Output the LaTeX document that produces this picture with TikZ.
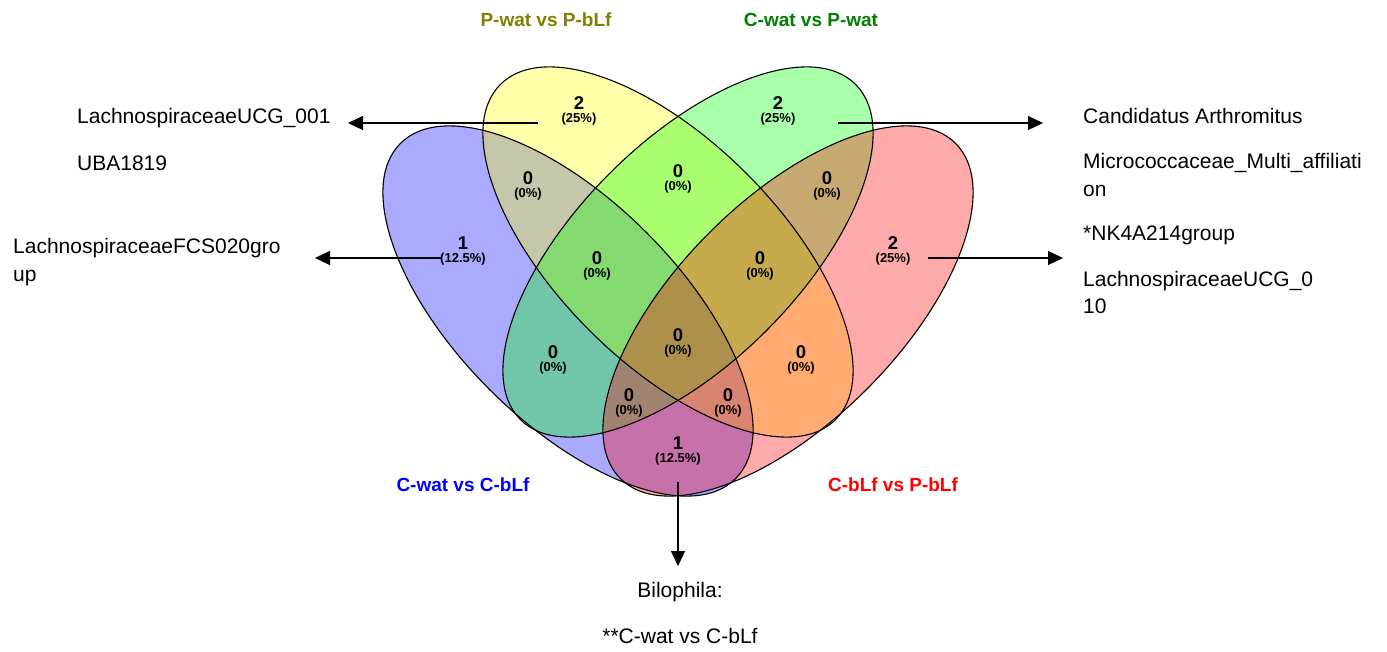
\documentclass[tikz,border=0pt]{standalone}
\usepackage{fontspec}
\setmainfont{Liberation Sans}
\usetikzlibrary{arrows.meta}
\definecolor{cblue}{RGB}{0,0,255}
\definecolor{cyellow}{RGB}{255,255,0}
\definecolor{cgreen}{RGB}{0,255,0}
\definecolor{cred}{RGB}{255,0,0}
\definecolor{lolive}{RGB}{128,128,0}
\definecolor{lgreen}{RGB}{0,128,0}
\begin{document}
\begin{tikzpicture}[x=1pt,y=1pt,
  setfill/.style={fill opacity=0.3333},
  setline/.style={draw=black, line width=1.1pt},
  cnt/.style={font=\fontsize{18.5}{18.5}\selectfont\bfseries, inner sep=0},
  pct/.style={font=\fontsize{13}{13}\selectfont\bfseries, inner sep=0},
  lab/.style={font=\fontsize{19}{19}\selectfont\bfseries, inner sep=0, anchor=base},
  side/.style={font=\fontsize{21}{21}\selectfont, inner sep=0, anchor=base west},
  bot/.style={font=\fontsize{21}{21}\selectfont, inner sep=0, anchor=base},
  arr/.style={line width=1.2pt, draw=black, -{Triangle[length=15pt,width=14pt]}}
]
\useasboundingbox[fill=white] (0,0) rectangle (1387,-651);

% fills (order: blue, yellow, green, red)
\begin{scope}[shift={(568,-311)},rotate=-45]
  \fill[cblue,setfill] (0,0) ellipse [x radius=237pt, y radius=111pt];
\end{scope}
\begin{scope}[shift={(668,-252)},rotate=-45]
  \fill[cyellow,setfill] (0,0) ellipse [x radius=237pt, y radius=111pt];
\end{scope}
\begin{scope}[shift={(688,-252)},rotate=45]
  \fill[cgreen,setfill] (0,0) ellipse [x radius=237pt, y radius=111pt];
\end{scope}
\begin{scope}[shift={(788,-311)},rotate=45]
  \fill[cred,setfill] (0,0) ellipse [x radius=237pt, y radius=111pt];
\end{scope}
% outlines
\begin{scope}[shift={(568,-311)},rotate=-45]
  \draw[setline] (0,0) ellipse [x radius=237pt, y radius=111pt];
\end{scope}
\begin{scope}[shift={(668,-252)},rotate=-45]
  \draw[setline] (0,0) ellipse [x radius=237pt, y radius=111pt];
\end{scope}
\begin{scope}[shift={(688,-252)},rotate=45]
  \draw[setline] (0,0) ellipse [x radius=237pt, y radius=111pt];
\end{scope}
\begin{scope}[shift={(788,-311)},rotate=45]
  \draw[setline] (0,0) ellipse [x radius=237pt, y radius=111pt];
\end{scope}

% category labels
\node[lab, text=lolive] (lY) at (546,-26) {P-wat vs P-bLf};
\node[lab, text=lgreen] (lG) at (811,-26) {C-wat vs P-wat};
\node[lab, text=cblue] (lB) at (463,-491) {C-wat vs C-bLf};
\node[lab, text=cred] (lR) at (893,-491) {C-bLf vs P-bLf};

% region counts
\node[cnt] (nY) at (579,-103) {2};   \node[pct] (pY) at (579,-119) {(25\%)};
\node[cnt] (nG) at (778,-103) {2};   \node[pct] (pG) at (778,-119) {(25\%)};
\node[cnt] (nBY) at (528,-178) {0};  \node[pct] (pBY) at (528,-194) {(0\%)};
\node[cnt] (nYG) at (678,-171) {0};  \node[pct] (pYG) at (678,-187) {(0\%)};
\node[cnt] (nGR) at (827,-178) {0};  \node[pct] (pGR) at (827,-194) {(0\%)};
\node[cnt] (nB) at (463,-243) {1};   \node[pct] (pB) at (463,-259) {(12.5\%)};
\node[cnt] (nBYG) at (597,-258) {0}; \node[pct] (pBYG) at (597,-274) {(0\%)};
\node[cnt] (nYGR) at (760,-258) {0}; \node[pct] (pYGR) at (760,-274) {(0\%)};
\node[cnt] (nR) at (893,-243) {2};   \node[pct] (pR) at (893,-259) {(25\%)};
\node[cnt] (nAll) at (678,-335) {0}; \node[pct] (pAll) at (678,-351) {(0\%)};
\node[cnt] (nBG) at (553,-352) {0};  \node[pct] (pBG) at (553,-368) {(0\%)};
\node[cnt] (nYR) at (801,-352) {0};  \node[pct] (pYR) at (801,-368) {(0\%)};
\node[cnt] (nBGR) at (629,-395) {0}; \node[pct] (pBGR) at (629,-411) {(0\%)};
\node[cnt] (nBYR) at (728,-395) {0}; \node[pct] (pBYR) at (728,-411) {(0\%)};
\node[cnt] (nBR) at (678,-443) {1};  \node[pct] (pBR) at (678,-459) {(12.5\%)};

% side texts
\node[side] (t1) at (77,-123) {LachnospiraceaeUCG\_001};
\node[side] (t2) at (77,-170) {UBA1819};
\node[side] (t3) at (13,-253) {LachnospiraceaeFCS020gro};
\node[side] (t4) at (13,-281) {up};
\node[side] (r1) at (1083,-123) {Candidatus Arthromitus};
\node[side] (r2) at (1083,-168) {Micrococcaceae\_Multi\_affiliati};
\node[side] (r3) at (1083,-196) {on};
\node[side] (r4) at (1083,-240) {*NK4A214group};
\node[side] (r5) at (1083,-286) {LachnospiraceaeUCG\_0};
\node[side] (r6) at (1083,-313) {10};
\node[bot] (b1) at (680,-597) {Bilophila:};
\node[bot] (b2) at (680,-643) {**C-wat vs C-bLf};

% arrows
\coordinate (s1) at (538,-123); \coordinate (e1) at (348,-123);
\coordinate (s2) at (442,-258); \coordinate (e2) at (315,-258);
\coordinate (s3) at (838,-123); \coordinate (e3) at (1043,-123);
\coordinate (s4) at (928,-258); \coordinate (e4) at (1063,-258);
\coordinate (s5) at (678,-482); \coordinate (e5) at (678,-566);
\draw[arr] (s1) -- (e1);
\draw[arr] (s2) -- (e2);
\draw[arr] (s3) -- (e3);
\draw[arr] (s4) -- (e4);
\draw[arr] (s5) -- (e5);
\end{tikzpicture}
\end{document}
